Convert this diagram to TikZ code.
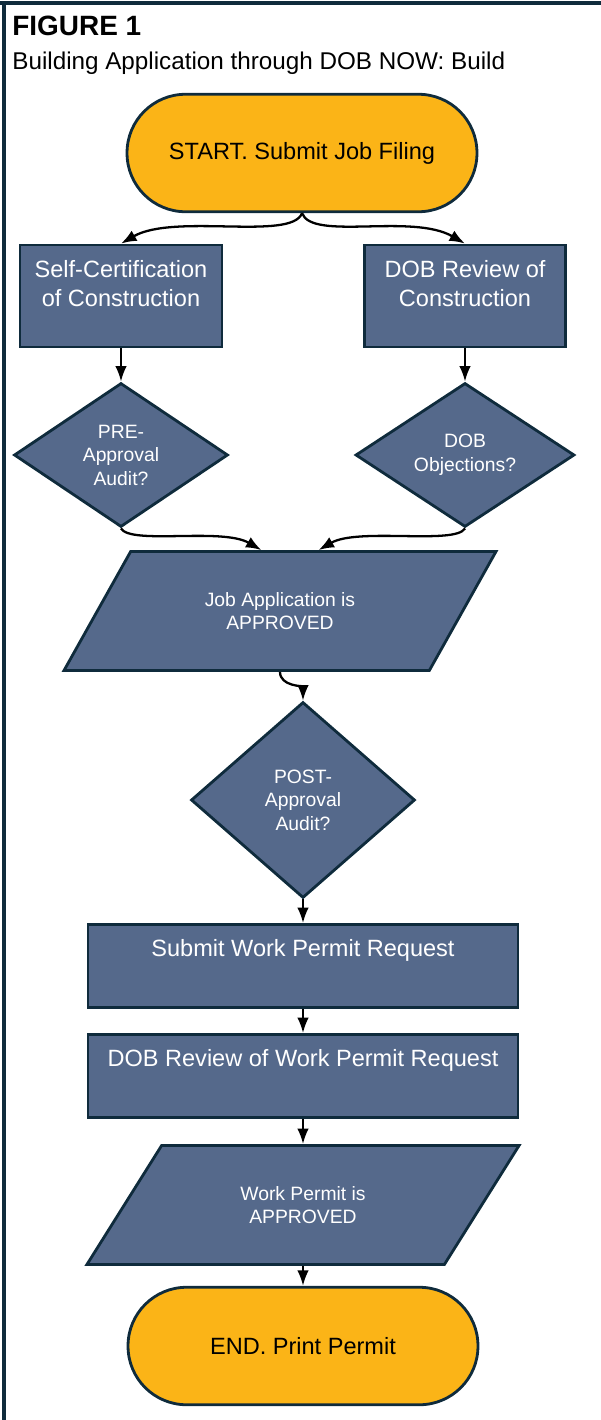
\documentclass[tikz,border=0pt]{standalone}
\usepackage{fontspec}
\setmainfont{Liberation Sans}
\usetikzlibrary{arrows.meta,shapes.geometric,calc}
\definecolor{dobnavy}{HTML}{0F2B3C}
\definecolor{dobslate}{HTML}{55698B}
\definecolor{dobgold}{HTML}{FBB417}
\newcommand{\topbox}[3]{\parbox[c][#1][t]{#2}{\centering\rule{0pt}{0.64cm}#3\par}}

\begin{document}
\begin{tikzpicture}[>=Latex, x=0.02cm, y=-0.02cm,
  terminal/.style={rectangle, rounded corners=1.17cm, draw=dobnavy, line width=1.6pt, fill=dobgold,
    minimum width=7cm, minimum height=2.35cm, font=\fontsize{13.4}{17}\selectfont},
  process/.style={rectangle, draw=dobnavy, line width=1.6pt, fill=dobslate, text=white, inner sep=0pt,
    font=\fontsize{13.4}{17}\selectfont},
  decision/.style={diamond, draw=dobnavy, line width=1.6pt, fill=dobslate, text=white, inner sep=0pt,
    align=center, font=\fontsize{11}{13.4}\selectfont},
  io/.style={trapezium, trapezium left angle=53.8, trapezium right angle=126.2, trapezium stretches=true,
    draw=dobnavy, line width=1.6pt, fill=dobslate, text=white, align=center,
    minimum width=8.66cm, minimum height=2.38cm, font=\fontsize{11}{13.4}\selectfont},
  flow/.style={->, line width=1.3pt},
  frame/.style={dobnavy, line width=1.8pt}]

\useasboundingbox (0,0) rectangle (601,1420);
\draw[frame] (0,3) -- (601,3);
\draw[frame] (4,3) -- (4,1420);

\node[anchor=base west, inner sep=0pt, font=\bfseries\fontsize{15.9}{19}\selectfont] (figtitle) at (12,35) {FIGURE 1};
\node[anchor=base west, inner sep=0pt, font=\fontsize{13.8}{17}\selectfont] (subtitle) at (12,69) {Building Application through DOB NOW: Build};

\node[terminal] (start) at (302,153) {START. Submit Job Filing};
\node[process] (selfcert) at (121,296) {\topbox{2.04cm}{4.04cm}{Self-Certification\\of Construction}};
\node[process] (dobrev) at (465,296) {\topbox{2.04cm}{4.02cm}{DOB Review of\\Construction}};
\node[decision, minimum width=4.28cm, minimum height=2.88cm] (pre) at (121,455) {PRE-\\Approval\\Audit?};
\node[decision, minimum width=4.38cm, minimum height=2.88cm] (dobobj) at (465,455) {DOB\\Objections?};
\node[io] (jobapp) at (280,611) {Job Application is\\APPROVED};
\node[decision, minimum width=4.48cm, minimum height=3.92cm] (post) at (303,800) {POST-\\Approval\\Audit?};
\node[process] (submit) at (303,966) {\topbox{1.66cm}{8.6cm}{Submit Work Permit Request}};
\node[process] (dobwp) at (303,1076) {\topbox{1.66cm}{8.6cm}{DOB Review of Work Permit Request}};
\node[io] (workapp) at (303,1205) {Work Permit is\\APPROVED};
\node[terminal] (finish) at (303,1346) {END. Print Permit};

\draw[flow] (start.south) to[out=-110,in=30,out distance=17pt,in distance=35pt] (selfcert.north);
\draw[flow] (start.south) to[out=-70,in=150,out distance=17pt,in distance=35pt] (dobrev.north);
\draw[flow] (selfcert.south) -- (pre.north);
\draw[flow] (dobrev.south) -- (dobobj.north);
\draw[flow] (pre.south) to[out=-60,in=150,out distance=11pt,in distance=26pt] ($(jobapp.top left corner)!0.357!(jobapp.top right corner)$);
\draw[flow] (dobobj.south) to[out=-120,in=30,out distance=11pt,in distance=26pt] ($(jobapp.top left corner)!0.512!(jobapp.top right corner)$);
\draw[flow] (jobapp.center |- jobapp.south) to[out=-90,in=90] (post.north);
\draw[flow] (post.south) -- (submit.north);
\draw[flow] (submit.south) -- (dobwp.north);
\draw[flow] (dobwp.south) -- (dobwp.south |- workapp.north);
\draw[flow] (workapp.center |- workapp.south) -- (finish.north);
\end{tikzpicture}
\end{document}
